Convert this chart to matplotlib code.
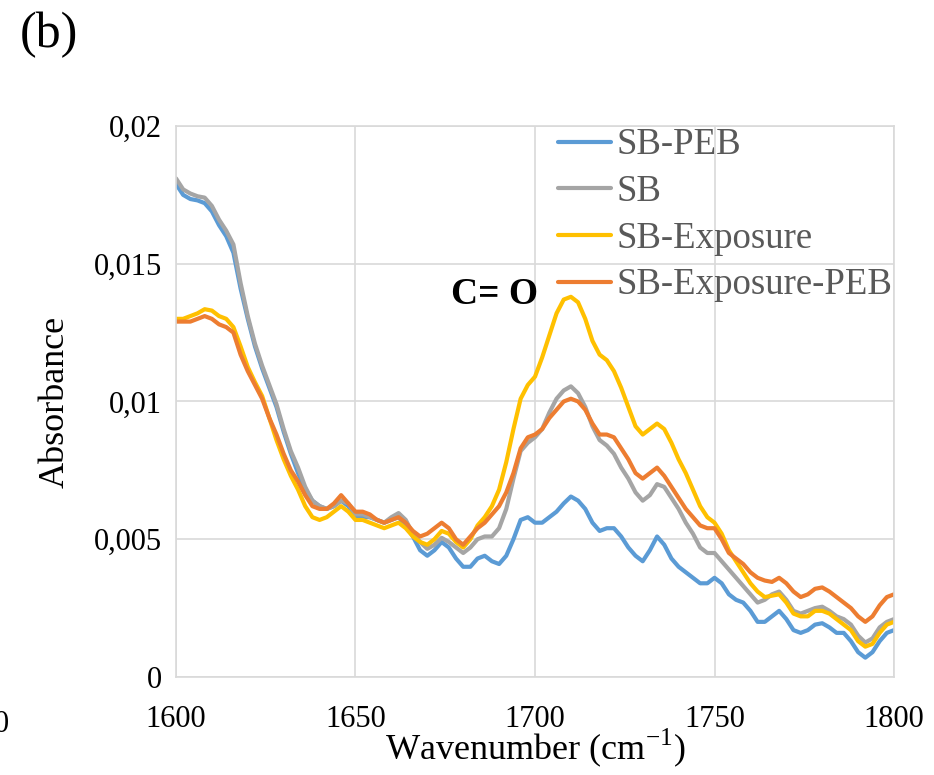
import matplotlib
matplotlib.use("Agg")
import matplotlib.pyplot as plt
import numpy as np

wavenumber = np.arange(1600, 1801, 2)

sb_peb = [0.0179, 0.0175, 0.01735, 0.0173, 0.0172, 0.0169, 0.0164, 0.0160, 0.0154, 0.0141,
          0.0130, 0.0120, 0.0112, 0.0105, 0.0098, 0.0089, 0.0081, 0.0074, 0.0068, 0.0064,
          0.0062, 0.0061, 0.0062, 0.0064, 0.0062, 0.0058, 0.0058, 0.0058, 0.0057, 0.0056,
          0.0057, 0.0058, 0.0055, 0.0051, 0.0046, 0.0044, 0.0046, 0.0049, 0.0047, 0.0043,
          0.0040, 0.0040, 0.0043, 0.0044, 0.0042, 0.0041, 0.0044, 0.0050, 0.0057, 0.0058,
          0.0056, 0.0056, 0.0058, 0.0060, 0.0063, 0.00655, 0.0064, 0.0061, 0.0056, 0.0053,
          0.0054, 0.0054, 0.0051, 0.0047, 0.0044, 0.0042, 0.0046, 0.0051, 0.0048, 0.0043,
          0.0040, 0.0038, 0.0036, 0.0034, 0.0034, 0.0036, 0.0034, 0.0030, 0.0028, 0.0027,
          0.0024, 0.0020, 0.0020, 0.0022, 0.0024, 0.0021, 0.0017, 0.0016, 0.0017, 0.0019,
          0.00195, 0.0018, 0.0016, 0.0016, 0.0013, 0.0009, 0.0007, 0.0009, 0.0013, 0.0016,
          0.0017]

sb = [0.0181, 0.0177, 0.01755, 0.01745, 0.0174, 0.0171, 0.0166, 0.0162, 0.0157, 0.0143,
      0.0131, 0.0121, 0.0113, 0.0106, 0.0099, 0.0090, 0.0082, 0.0076, 0.0069, 0.0064,
      0.0062, 0.0061, 0.0062, 0.0064, 0.0063, 0.0059, 0.0059, 0.0058, 0.0057, 0.0056,
      0.0058, 0.00595, 0.0057, 0.0052, 0.0049, 0.00465, 0.0048, 0.00505, 0.0049, 0.0047,
      0.0045, 0.0047, 0.0050, 0.0051, 0.0051, 0.0054, 0.0061, 0.0072, 0.0082, 0.0085,
      0.0087, 0.0090, 0.0096, 0.0101, 0.0104, 0.01055, 0.0103, 0.0098, 0.0091, 0.0086,
      0.0084, 0.0081, 0.0076, 0.0072, 0.0067, 0.0064, 0.0066, 0.0070, 0.0069, 0.0065,
      0.0061, 0.0056, 0.0052, 0.0047, 0.0045, 0.0045, 0.0042, 0.0039, 0.0036, 0.0033,
      0.0030, 0.0027, 0.0028, 0.0030, 0.0031, 0.0028, 0.0024, 0.0023, 0.0024, 0.0025,
      0.00255, 0.0024, 0.0022, 0.0021, 0.0019, 0.0015, 0.00125, 0.0014, 0.0018, 0.0020,
      0.0021]

sb_exposure = [0.0130, 0.0130, 0.0131, 0.0132, 0.01335, 0.0133, 0.0131, 0.0130, 0.0127, 0.0120,
               0.01125, 0.0107, 0.0102, 0.0094, 0.0086, 0.0079, 0.0073, 0.0068, 0.0062, 0.0058,
               0.0057, 0.0058, 0.0060, 0.0062, 0.0060, 0.0057, 0.0057, 0.0056, 0.0055, 0.0054,
               0.0055, 0.0056, 0.0054, 0.0051, 0.0049, 0.0048, 0.0050, 0.0053, 0.0052, 0.0049,
               0.0047, 0.0050, 0.0055, 0.0058, 0.0062, 0.0068, 0.0078, 0.0090, 0.0101, 0.0106,
               0.0109, 0.0116, 0.0124, 0.0132, 0.0137, 0.0138, 0.0136, 0.0130, 0.0122, 0.0117,
               0.0115, 0.0111, 0.0105, 0.0098, 0.0091, 0.0088, 0.0090, 0.0092, 0.0090, 0.0085,
               0.0079, 0.0074, 0.0068, 0.0062, 0.0058, 0.0056, 0.0052, 0.0046, 0.0042, 0.0038,
               0.0034, 0.0031, 0.0029, 0.00295, 0.0030, 0.0027, 0.0023, 0.0022, 0.0022, 0.0024,
               0.0024, 0.0023, 0.0021, 0.0019, 0.0017, 0.0013, 0.0011, 0.0012, 0.0016, 0.0019,
               0.0020]

sb_exposure_peb = [0.0129, 0.0129, 0.0129, 0.0130, 0.0131, 0.0130, 0.0128, 0.0127, 0.0125, 0.0117,
                   0.0111, 0.0106, 0.0101, 0.0094, 0.0088, 0.0081, 0.0075, 0.0071, 0.0066, 0.0062,
                   0.0061, 0.0061, 0.0063, 0.0066, 0.0063, 0.0060, 0.0060, 0.0059, 0.0057, 0.0056,
                   0.0057, 0.0058, 0.0056, 0.0053, 0.0051, 0.0052, 0.0054, 0.0056, 0.0054, 0.0050,
                   0.0048, 0.0051, 0.0054, 0.0056, 0.0059, 0.0062, 0.0067, 0.0074, 0.0083, 0.0087,
                   0.0088, 0.0090, 0.0094, 0.0097, 0.0100, 0.0101, 0.0100, 0.0097, 0.0092, 0.0088,
                   0.0088, 0.0087, 0.0083, 0.0079, 0.0074, 0.0072, 0.0074, 0.0076, 0.0073, 0.0069,
                   0.0065, 0.0061, 0.0058, 0.0055, 0.0054, 0.0054, 0.0050, 0.0045, 0.0043, 0.0041,
                   0.0038, 0.0036, 0.0035, 0.00345, 0.0036, 0.0034, 0.0031, 0.0029, 0.0030, 0.0032,
                   0.00325, 0.0031, 0.0029, 0.0027, 0.0025, 0.0022, 0.0020, 0.0022, 0.0026, 0.0029,
                   0.0030]

labels = ["SB-PEB", "SB", "SB-Exposure", "SB-Exposure-PEB"]
colors = ["#5B9BD5", "#A5A5A5", "#FFC000", "#ED7D31"]
yticks = [0, 0.005, 0.01, 0.015, 0.02]
ytick_labels = ["0", "0,005", "0,01", "0,015", "0,02"]
xticks = [1600, 1650, 1700, 1750, 1800]

plt.rcParams["font.family"] = ["Liberation Serif", "DejaVu Serif"]
plt.rcParams["mathtext.fontset"] = "custom"
plt.rcParams["mathtext.rm"] = "Liberation Serif"

fig = plt.figure(figsize=(9.34, 7.75), dpi=100)
ax = fig.add_axes([0.1884, 0.1265, 0.7688, 0.7109])

for series, lab, col in zip([sb_peb, sb, sb_exposure, sb_exposure_peb], labels, colors):
    ax.plot(wavenumber, series, color=col, lw=3.0, label=lab,
            solid_joinstyle="round", solid_capstyle="round")

ax.set_xlim(1600, 1800)
ax.set_ylim(0, 0.02)
ax.set_xticks(xticks)
ax.set_yticks(yticks)
ax.set_yticklabels(ytick_labels)
ax.tick_params(axis="y", labelsize=22, length=0, pad=10)
ax.tick_params(axis="x", labelsize=22, length=0, pad=20)
ax.grid(True, color="#d9d9d9", lw=1.2)
ax.set_axisbelow(True)
for s in ax.spines.values():
    s.set_color("#d9d9d9")
    s.set_linewidth(1.2)

ax.set_xlabel("Wavenumber (cm$^{-1}$)", fontsize=26, labelpad=-5)
ax.set_ylabel("Absorbance", fontsize=26, labelpad=16)

ax.text(1688.6, 0.01387, "C= O", fontsize=27, fontweight="bold", ha="center", va="center")

leg = fig.legend(loc="upper left", bbox_to_anchor=(558 / 934, 1 - 128 / 775),
                 frameon=False, fontsize=26.5, handlelength=1.45, handletextpad=0.15,
                 labelspacing=0.33, borderpad=0, borderaxespad=0)
for t in leg.get_texts():
    t.set_color("#595959")
for h in leg.legend_handles:
    h.set_linewidth(3.0)

fig.text(20 / 934, 1 - 35 / 775, "(b)", fontsize=36, va="center", ha="left")
fig.text(-6 / 934, 1 - 725 / 775, "0", fontsize=22, va="center", ha="left")

fig.savefig("out.png", dpi=100)
